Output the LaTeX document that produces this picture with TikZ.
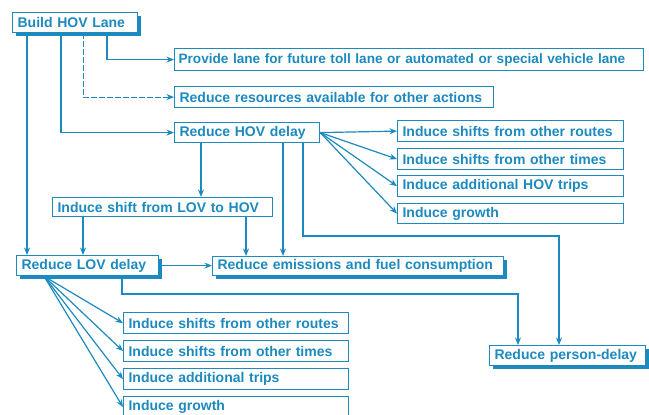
\documentclass[tikz,border=0pt]{standalone}
\usepackage{fontspec}
\setmainfont{Liberation Sans}
\usetikzlibrary{arrows.meta,shadows}
\definecolor{hov}{RGB}{28,138,190}
\begin{document}
\begin{tikzpicture}[x=1pt,y=-1pt,
  box/.style={draw=hov, line width=1.2pt, text=hov, anchor=north west, inner xsep=5pt, inner ysep=0pt,
    align=left, font=\fontsize{14}{16}\selectfont\bfseries, fill=white},
  sh/.style={drop shadow={shadow xshift=3pt, shadow yshift=-3pt, fill=hov, opacity=1}},
  con/.style={draw=hov, line width=1.2pt, -{Stealth[length=7.5pt,width=6pt]}}]
\useasboundingbox (0,0) rectangle (649,415);
% boxes
\node[box, sh, text width=115pt, minimum height=20pt] (build) at (12,12) {Build HOV Lane};
\node[box, text width=461pt, inner xsep=4pt, minimum height=22pt, font=\fontsize{13.6}{16}\selectfont\bfseries] (provide) at (174,48) {Provide lane for future toll lane or automated or special vehicle lane};
\node[box, text width=309pt, minimum height=21pt] (resources) at (174,86) {Reduce resources available for other actions};
\node[box, text width=135pt, minimum height=20pt] (hovdelay) at (174,122) {Reduce HOV delay};
\node[box, text width=216pt, minimum height=21pt] (hr1) at (397,120) {Induce shifts from other routes};
\node[box, text width=216pt, minimum height=21pt] (hr2) at (397,148) {Induce shifts from other times};
\node[box, text width=216pt, minimum height=21pt] (hr3) at (397,175) {Induce additional HOV trips};
\node[box, text width=216pt, minimum height=20pt] (hr4) at (397,203) {Induce growth};
\node[box, text width=210pt, minimum height=19pt] (shift) at (52,197) {Induce shift from LOV to HOV};
\node[box, sh, text width=132pt, minimum height=20pt] (lovdelay) at (16,255) {Reduce LOV delay};
\node[box, sh, text width=281pt, minimum height=19pt] (emis) at (212,256) {Reduce emissions and fuel consumption};
\node[box, text width=215pt, minimum height=21pt] (lr1) at (123,312) {Induce shifts from other routes};
\node[box, text width=215pt, minimum height=21pt] (lr2) at (123,340) {Induce shifts from other times};
\node[box, text width=215pt, minimum height=21pt] (lr3) at (123,368) {Induce additional trips};
\node[box, text width=215pt, minimum height=21pt] (lr4) at (123,396) {Induce growth};
\node[box, sh, text width=146pt, minimum height=20pt] (person) at (489,345) {Reduce person-delay};
% connectors
\coordinate (pc) at (559,236);
\coordinate (lc) at (518,294);
\draw[con] (build.south -| 107,0) |- (provide.west);
\draw[con, dash pattern=on 6pt off 2pt, line width=0.8pt] (build.south -| 83,0) |- (resources.west);
\draw[con] (build.south -| 61,0) |- (hovdelay.west);
\draw[con] (build.south -| 27,0) -- (lovdelay.north -| 27,0);
\draw[con] (hovdelay.south -| 201,0) -- (shift.north -| 201,0);
\draw[con] (hovdelay.south -| 283,0) -- (emis.north -| 283,0);
\draw[con] (hovdelay.south -| 303,0) |- (pc) -- (person.north -| pc);
\draw[con] (shift.south -| 83,0) -- (lovdelay.north -| 83,0);
\draw[con] (shift.south -| 246,0) -- (emis.north -| 246,0);
\draw[con] (lovdelay.east) -- (lovdelay.east -| emis.west);
\draw[con] (lovdelay.south -| 122,0) |- (lc) -- (person.north -| lc);
\foreach \t in {hr1,hr2,hr3,hr4} \draw[con] (hovdelay.east) -- (\t.west);
\foreach \t in {lr1,lr2,lr3,lr4} \draw[con] (lovdelay.south -| 44,0) -- (\t.west);
\end{tikzpicture}
\end{document}
